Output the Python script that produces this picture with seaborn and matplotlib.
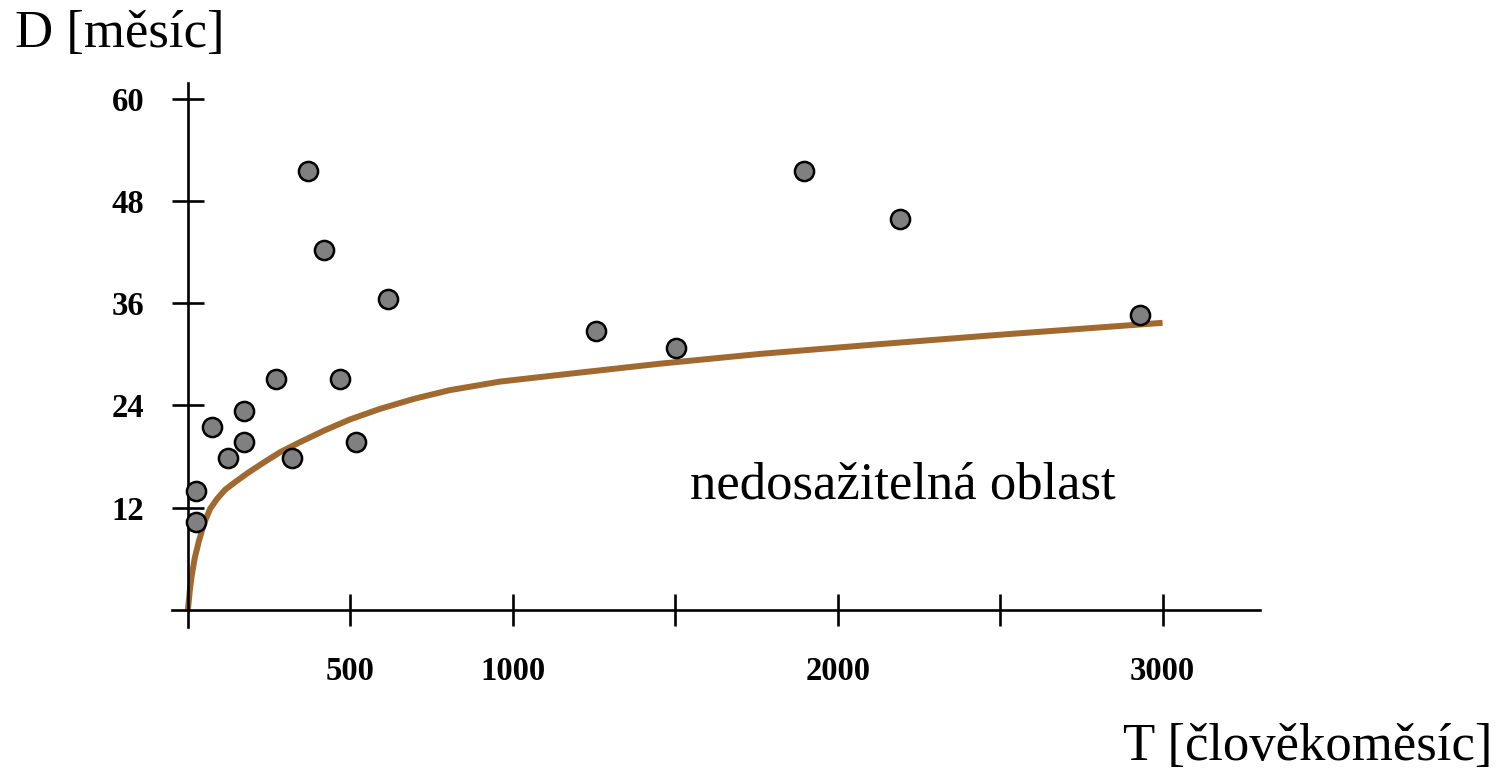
import numpy as np
import pandas as pd
import seaborn as sns
import matplotlib
matplotlib.use("Agg")
import matplotlib.pyplot as plt

# projekty: pracnost T [clovekomesic], doba D [mesic]
proj_T = [25, 25, 75, 124, 172, 172, 271, 319, 369, 418, 468, 516, 616,
          1255, 1502, 1895, 2191, 2931]
proj_D = [14.0, 10.3, 21.5, 17.8, 23.4, 19.7, 27.1, 17.8, 51.5, 42.2, 27.1,
          19.7, 36.5, 32.7, 30.8, 51.5, 45.9, 34.6]

# hranice nedosazitelne oblasti
curve_T = [0, 6, 12, 21, 34, 49, 68, 89, 114, 145, 185, 231, 283, 345, 422,
           498, 591, 698, 806, 960, 1145, 1452, 1760, 2129, 2498, 3000]
curve_D = [0.0, 2.35, 4.1, 6.1, 8.1, 10.1, 11.85, 13.0, 14.1, 15.0, 16.1,
           17.25, 18.5, 19.7, 21.1, 22.35, 23.6, 24.8, 25.8, 26.8, 27.6, 28.9,
           30.05, 31.2, 32.3, 33.7]

x_ticks = [500, 1000, 1500, 2000, 2500, 3000]
x_labels = ["500", "1000", "", "2000", "", "3000"]
y_ticks = [12, 24, 36, 48, 60]

sns.set_theme(style="white")
plt.rcParams["font.family"] = ["Liberation Serif", "DejaVu Serif"]

df_p = pd.DataFrame({"T": proj_T, "D": proj_D})
df_c = pd.DataFrame({"T": curve_T, "D": curve_D})

fig = plt.figure(figsize=(15, 7.79), dpi=100)
ax = fig.add_axes([172 / 1500, 152 / 779, 1088 / 1500, 544 / 779])

sns.lineplot(data=df_c, x="T", y="D", ax=ax, color="#A0692F", linewidth=4.3,
             sort=False, estimator=None, solid_capstyle="butt",
             solid_joinstyle="round", zorder=2)
sns.scatterplot(data=df_p, x="T", y="D", ax=ax, color="#808080", s=190,
                edgecolor="black", linewidth=1.8, zorder=3)

ax.set_xlim(-49, 3300)
ax.set_ylim(-2, 61.85)

for s in ["top", "right"]:
    ax.spines[s].set_visible(False)
ax.spines["left"].set_position(("data", 0))
ax.spines["bottom"].set_position(("data", 0))
for s in ["left", "bottom"]:
    ax.spines[s].set_linewidth(1.9)
    ax.spines[s].set_color("black")

ax.set_xticks(x_ticks)
ax.set_xticklabels(x_labels)
ax.set_yticks(y_ticks)
ax.set_yticklabels([str(v) for v in y_ticks])
ax.tick_params(axis="both", direction="inout", length=23, width=1.9,
               colors="black", labelsize=23.5, bottom=True, left=True)
ax.tick_params(axis="x", pad=21.5)
ax.tick_params(axis="y", pad=20)
for lab in ax.get_xticklabels() + ax.get_yticklabels():
    lab.set_fontweight("bold")

ax.set_xlabel("")
ax.set_ylabel("")

ax.text(2200, 13.1, "nedosažitelná oblast", ha="center", va="baseline",
        fontsize=38, color="black")

fig.text(15 / 1500, 1 - 47 / 779, "D [měsíc]", ha="left", va="baseline",
         fontsize=38, color="black")
fig.text(1492 / 1500, 1 - 760 / 779, "T [člověkoměsíc]", ha="right",
         va="baseline", fontsize=38, color="black")

fig.savefig("out.png", dpi=100, facecolor="white")
